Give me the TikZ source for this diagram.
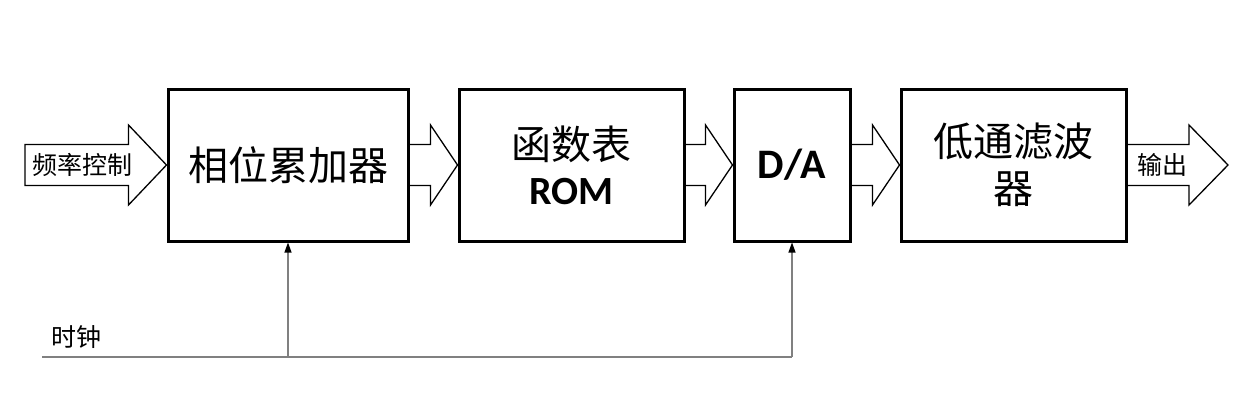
\documentclass[tikz,border=0pt]{standalone}
\usepackage{fontspec}
\newfontfamily\cjk{Noto Sans CJK SC}
\newfontfamily\lat{Carlito}
\usetikzlibrary{calc,arrows.meta}
\tikzset{
  blockbox/.style={draw=black,line width=3pt,minimum height=152,inner sep=0pt,align=center,font=\cjk\fontsize{40}{47}\selectfont},
  blk/.style={draw=black,line width=1.3pt,line join=miter},
  clkline/.style={draw=black!50,line width=2pt},
  clkup/.style={draw=black!50,line width=1.2pt,-{Triangle[length=10pt,width=7pt,color=black]}},
  smalltxt/.style={font=\cjk\fontsize{25}{30}\selectfont,inner sep=0pt}
}
\newcommand\blkarrowopen[3]{%
  \draw[blk] ($(#1)+(0,20.5)$) -- ($(#2)+(-#3,20.5)$) -- ($(#2)+(-#3,40)$) -- (#2)
    -- ($(#2)+(-#3,-40)$) -- ($(#2)+(-#3,-20.5)$) -- ($(#1)+(0,-20.5)$);}
\newcommand\blkarrowclosed[3]{%
  \draw[blk] ($(#1)+(0,20.5)$) -- ($(#2)+(-#3,20.5)$) -- ($(#2)+(-#3,40)$) -- (#2)
    -- ($(#2)+(-#3,-40)$) -- ($(#2)+(-#3,-20.5)$) -- ($(#1)+(0,-20.5)$) -- cycle;}
\begin{document}
\begin{tikzpicture}[x=1pt,y=-1pt]
\useasboundingbox (0,0) rectangle (1257,412);
\node[blockbox,minimum width=240] (b1) at (288,165) {相位累加器};
\node[blockbox,minimum width=225] (b2) at (571.5,165) {函数表\\[-2pt]{\lat\bfseries ROM}};
\node[blockbox,minimum width=116] (b3) at (792,165) {\lat\bfseries\fontsize{42}{47}\selectfont D/A};
\node[blockbox,minimum width=225] (b4) at (1013.5,165) {低通滤波\\器};
% input arrow
\coordinate (inL) at (25,165);
\blkarrowclosed{inL}{b1.west}{38}
\node[smalltxt] (inT) at (82,165) {频率控制};
% between arrows
\blkarrowopen{b1.east}{b2.west}{27}
\blkarrowopen{b2.east}{b3.west}{27}
\blkarrowopen{b3.east}{b4.west}{27}
% output
\coordinate (outR) at (1228,165);
\blkarrowopen{b4.east}{outR}{39}
\node[smalltxt] (outT) at (1162,165) {输出};
% clock
\coordinate (clkL) at (42,357);
\coordinate (clkA) at (b1.south |- clkL);
\coordinate (clkB) at (b3.south |- clkL);
\draw[clkline] (clkL) -- (clkB);
\draw[clkup] (clkA) -- (b1.south);
\draw[clkup] (clkB) -- (b3.south);
\node[smalltxt] (clkT) at (76,337) {时钟};
\end{tikzpicture}
\end{document}
